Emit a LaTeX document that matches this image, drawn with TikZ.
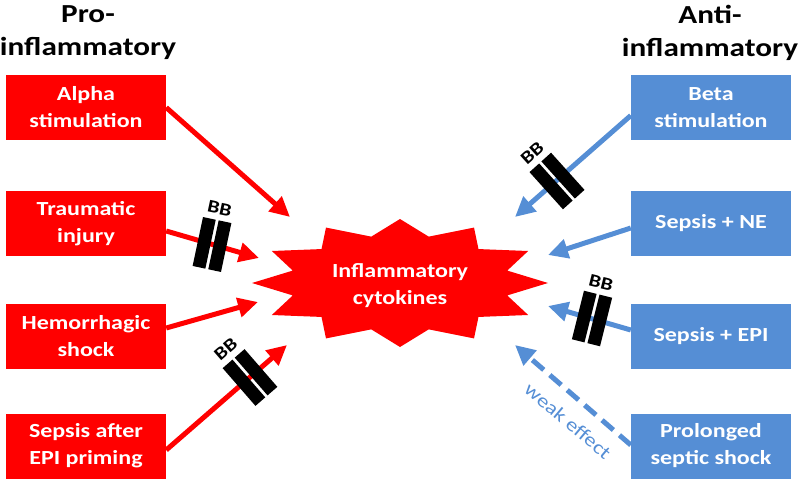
\documentclass[tikz,border=0pt]{standalone}
\usepackage{fontspec}
\setmainfont{Carlito}[FakeStretch=1.2]
\usetikzlibrary{arrows.meta,calc}
\definecolor{redc}{HTML}{FF0000}
\definecolor{bluec}{HTML}{558ED5}
\tikzset{
  redbox/.style={fill=redc, text=white, font=\bfseries\fontsize{20}{27}\selectfont,
    minimum width=160pt, minimum height=65pt, align=center, inner sep=0pt},
  bluebox/.style={redbox, fill=bluec},
  redarrow/.style={draw=redc, line width=5pt, -{Triangle[length=20pt,width=19pt]}},
  bluearrow/.style={redarrow, draw=bluec},
  dasharrow/.style={bluearrow, dash pattern=on 15pt off 8pt},
  bbtext/.style={font=\bfseries\fontsize{18}{18}\selectfont, transform shape, inner sep=0pt},
  titletext/.style={font=\bfseries\fontsize{26}{33}\selectfont, align=center, inner sep=0pt},
  startext/.style={text=white, font=\bfseries\fontsize{20}{27}\selectfont, align=center, inner sep=0pt},
  weaktext/.style={text=bluec, font=\fontsize{19}{19}\selectfont, inner sep=0pt},
  bb/.pic={
    \fill[black] (-14.5,-25) rectangle (-1.5,25);
    \fill[black] (1.5,-25) rectangle (14.5,25);
    \node[bbtext] (-lbl) at (0,-37) {BB};
  }
}
\begin{document}
\begin{tikzpicture}[x=1pt,y=-1pt]
\useasboundingbox (0,0) rectangle (800,479);

% titles
\node[titletext] (protitle) at (88,33) {Pro-\\inflammatory};
\node[titletext] (antititle) at (710,33) {Anti-\\inflammatory};

% left boxes
\node[redbox] (alpha) at (86,107.5) {Alpha\\stimulation};
\node[redbox] (trauma) at (86,223.5) {Traumatic\\injury};
\node[redbox] (hemo) at (86,336.5) {Hemorrhagic\\shock};
\node[redbox] (sepepi) at (86,446) {Sepsis after\\EPI priming};

% right boxes
\node[bluebox] (beta) at (711,107.5) {Beta\\stimulation};
\node[bluebox] (sepne) at (711,223.5) {Sepsis + NE};
\node[bluebox] (sepepib) at (711,336.5) {Sepsis + EPI};
\node[bluebox] (prolong) at (711,446) {Prolonged\\septic shock};

% star
\begin{scope}[shift={(400,283)}]
\fill[redc] (0:148 and 64) \foreach \a in {0,30,...,330} { -- (\a+15:111 and 48) -- (\a+30:148 and 64) } -- cycle;
\end{scope}
\node[startext] (cyto) at (400,286) {Inflammatory\\cytokines};

% arrow tips
\coordinate (t1) at (290,217);
\coordinate (t2) at (259,258);
\coordinate (t3) at (258,302);
\coordinate (t4) at (287,345);
\coordinate (r1) at (515,217);
\coordinate (r2) at (548,255);
\coordinate (r3) at (548,306);
\coordinate (r4) at (515,345);

% red arrows
\draw[redarrow] (alpha.east) -- (t1);
\draw[redarrow] ($(trauma.east)+(0,7.5)$) -- (t2);
\draw[redarrow] ($(hemo.east)+(0,-8.5)$) -- (t3);
\draw[redarrow] ($(sepepi.east)+(0,4)$) -- (t4);

% blue arrows
\draw[bluearrow] ($(beta.west)+(0,8)$) -- (r1);
\draw[bluearrow] ($(sepne.west)+(0,4.5)$) -- (r2);
\draw[bluearrow] ($(sepepib.west)+(0,-6.5)$) -- (r3);
\draw[dasharrow] ($(prolong.west)+(0,-1)$) -- (r4);

% weak effect label
\node[weaktext, rotate=-40] (weak) at (568,421) {weak effect};

% beta blockers
\pic (bb1) [rotate=-12] at (212,244.5) {bb};
\pic (bb2) [rotate=41] at (250,377.5) {bb};
\pic (bb3) [rotate=42] at (557,181) {bb};
\pic (bb4) [rotate=-14] at (592,318.5) {bb};
\end{tikzpicture}
\end{document}
